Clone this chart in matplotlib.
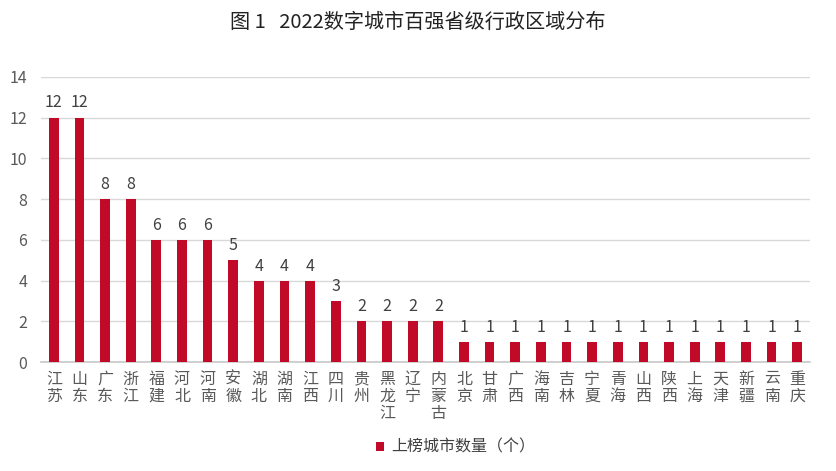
import matplotlib
matplotlib.use("Agg")
import matplotlib.pyplot as plt
import numpy as np

plt.rcParams['font.family'] = ['Noto Sans CJK SC', 'DejaVu Sans']

provinces = ["江苏", "山东", "广东", "浙江", "福建", "河北", "河南", "安徽", "湖北", "湖南",
             "江西", "四川", "贵州", "黑龙江", "辽宁", "内蒙古", "北京", "甘肃", "广西", "海南",
             "吉林", "宁夏", "青海", "山西", "陕西", "上海", "天津", "新疆", "云南", "重庆"]
counts = [12, 12, 8, 8, 6, 6, 6, 5, 4, 4,
          4, 3, 2, 2, 2, 2, 1, 1, 1, 1,
          1, 1, 1, 1, 1, 1, 1, 1, 1, 1]
title = "图 1   2022数字城市百强省级行政区域分布"
legend_label = "上榜城市数量（个）"

RED = "#C00A28"
GREY = "#595959"

fig = plt.figure(figsize=(8.36, 4.71), dpi=100)
ax = fig.add_axes([0.049, 0.231, 0.92, 0.606])

x = np.arange(len(provinces))
bars = ax.bar(x, counts, width=0.38, color=RED, label=legend_label, zorder=3)
for xi, v in zip(x, counts):
    ax.text(xi, v + 0.3, str(v), ha="center", va="bottom", fontsize=11.5, color="#404040")

ax.set_xlim(-0.5, len(provinces) - 0.5)
ax.set_ylim(0, 14)
ax.set_yticks(range(0, 15, 2))
ax.set_xticks(x)
ax.set_xticklabels(["\n".join(p) for p in provinces], fontsize=11.5, color=GREY,
                   linespacing=1.0, va="top")
ax.tick_params(axis="x", length=0, pad=6)
ax.tick_params(axis="y", length=0, labelsize=11.5, labelcolor=GREY, pad=10)
ax.grid(axis="y", color="#d9d9d9", lw=1, zorder=0)
for s in ["top", "right", "left"]:
    ax.spines[s].set_visible(False)
ax.spines["bottom"].set_color("#c8c8c8")
ax.spines["bottom"].set_linewidth(1.2)

fig.text(0.5, 0.953, title, ha="center", va="center", fontsize=14.5, color="#222222")
fig.legend(handles=[bars], labels=[legend_label], loc="center", bbox_to_anchor=(0.545, 0.05),
           frameon=False, fontsize=11.5, handlelength=0.5, handleheight=0.5,
           handletextpad=0.5, labelcolor="#404040")

fig.savefig("out.png", dpi=100)
